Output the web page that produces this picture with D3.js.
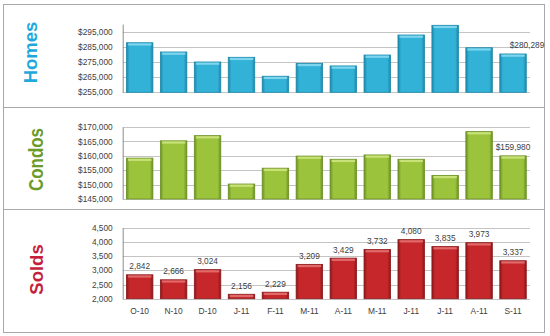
<!DOCTYPE html>
<html><head><meta charset="utf-8">
<script src="https://cdn.jsdelivr.net/npm/d3@7"></script>
<style>body{margin:0;background:#fff;} svg{display:block;}</style>
</head><body>
<script>
const categories = ["O-10","N-10","D-10","J-11","F-11","M-11","A-11","M-11","J-11","J-11","A-11","S-11"];
const homesValues = [287700, 281600, 275000, 278100, 265600, 274100, 272400, 279600, 292800, 299200, 284400, 280289];
const condosValues = [159200, 165200, 167000, 150200, 155700, 159900, 158800, 160300, 158800, 153200, 168400, 159980];
const soldsValues = [2842, 2666, 3024, 2156, 2229, 3209, 3429, 3732, 4080, 3835, 3973, 3337];
const homesTicks = [255000, 265000, 275000, 285000, 295000];
const condosTicks = [145000, 150000, 155000, 160000, 165000, 170000];
const soldsTicks = [2000, 2500, 3000, 3500, 4000, 4500];

const W = 550, H = 336;
const svg = d3.select("body").append("svg").attr("width", W).attr("height", H);
const defs = svg.append("defs");

const money = d3.format("$,");
const num = d3.format(",");

const panels = [
  {name:"Homes", values:homesValues, ticks:homesTicks, domain:[255000,300000], fmt:money,
   box:[3,4,541,103], yr:[92.3,24.1], color:"#1ea8dc", fontSize:18.5, tx:36.5, ty:52.5, tlen:null,
   bar:{main:"#33b2d8", edge:"#1b87a8", top:"#86d8ef"}, labels:"last", labelDx:14},
  {name:"Condos", values:condosValues, ticks:condosTicks, domain:[145000,170000], fmt:money,
   box:[3,107,541,102], yr:[199,127], color:"#6b9b28", fontSize:19.5, tx:42.5, ty:159.5, tlen:63,
   bar:{main:"#9bc33c", edge:"#6a8f22", top:"#cde47f"}, labels:"last", labelDx:0},
  {name:"Solds", values:soldsValues, ticks:soldsTicks, domain:[2000,4500], fmt:num,
   box:[3,209,541,123], yr:[298.7,227.7], color:"#c61f3c", fontSize:18.5, tx:43, ty:269.5, tlen:null,
   bar:{main:"#c6272b", edge:"#8a1719", top:"#e27171"}, labels:"all", labelDx:0, xaxis:true}
];

const x = d3.scaleBand().domain(d3.range(categories.length)).range([122.7, 530])
  .paddingInner(0.22).paddingOuter(0.11);

panels.forEach((p, pi) => {
  const g = svg.append("g");
  g.append("rect").attr("x", p.box[0]+0.5).attr("y", p.box[1]+0.5)
    .attr("width", p.box[2]).attr("height", p.box[3])
    .attr("fill", "#fff").attr("stroke", "#a9a9a9").attr("stroke-width", 1);

  const y = d3.scaleLinear().domain(p.domain).range(p.yr);

  const gid = "grad" + pi;
  const lg = defs.append("linearGradient").attr("id", gid).attr("x1","0").attr("x2","1").attr("y1","0").attr("y2","0");
  [[0,p.bar.edge],[0.12,p.bar.main],[0.88,p.bar.main],[1,p.bar.edge]].forEach(s=>
    lg.append("stop").attr("offset", s[0]).attr("stop-color", s[1]));

  g.append("g").selectAll("line").data(p.ticks).join("line")
    .attr("x1", 122.7).attr("x2", 530)
    .attr("y1", d => Math.round(y(d))+0.5).attr("y2", d => Math.round(y(d))+0.5)
    .attr("stroke", "#c4c4c4").attr("stroke-width", 1);

  const ax = d3.axisLeft(y).tickValues(p.ticks).tickFormat(p.fmt).tickSize(0).tickPadding(10);
  const axg = g.append("g").attr("transform", "translate(122.7,0)").call(ax);
  axg.select(".domain").attr("stroke", "#8c8c8c");
  axg.selectAll("text").attr("font-family", "Liberation Sans, Arial, sans-serif")
    .attr("font-size", 8.3).attr("fill", "#404040");

  const bars = g.append("g").selectAll("g").data(p.values).join("g");
  bars.append("rect")
    .attr("x", (d,i) => x(i)).attr("width", x.bandwidth())
    .attr("y", d => y(d)).attr("height", d => y(p.domain[0]) - y(d))
    .attr("fill", `url(#${gid})`).attr("stroke", p.bar.edge).attr("stroke-width", 0.8);
  bars.append("rect")
    .attr("x", (d,i) => x(i)+1.5).attr("width", x.bandwidth()-3)
    .attr("y", d => y(d)+0.6).attr("height", 2.2)
    .attr("fill", p.bar.top).attr("opacity", 0.9);

  const lab = p.labels === "all" ? p.values.map((v,i)=>i) : [p.values.length-1];
  g.append("g").selectAll("text").data(lab).join("text")
    .attr("x", i => x(i) + x.bandwidth()/2 + p.labelDx)
    .attr("y", i => y(p.values[i]) - 5.5)
    .attr("text-anchor", "middle")
    .attr("font-family", "Liberation Sans, Arial, sans-serif").attr("font-size", 8.3)
    .attr("fill", "#404040")
    .text(i => p.fmt(p.values[i]));

  if (p.xaxis) {
    const xa = d3.axisBottom(x).tickFormat(i => categories[i]).tickSize(0).tickPadding(9);
    const xg = g.append("g").attr("transform", `translate(0,${p.yr[0]})`).call(xa);
    xg.select(".domain").remove();
    xg.selectAll("text").attr("font-family", "Liberation Sans, Arial, sans-serif")
      .attr("font-size", 8.4).attr("fill", "#404040");
  }

  const t = g.append("text").attr("transform", `translate(${p.tx},${p.ty}) rotate(-90)`)
    .attr("text-anchor", "middle")
    .attr("font-family", "Liberation Sans, Arial, sans-serif").attr("font-weight", "bold")
    .attr("font-size", p.fontSize).attr("fill", p.color).text(p.name);
  if (p.tlen) t.attr("textLength", p.tlen).attr("lengthAdjust", "spacingAndGlyphs");
});
</script>
</body></html>
